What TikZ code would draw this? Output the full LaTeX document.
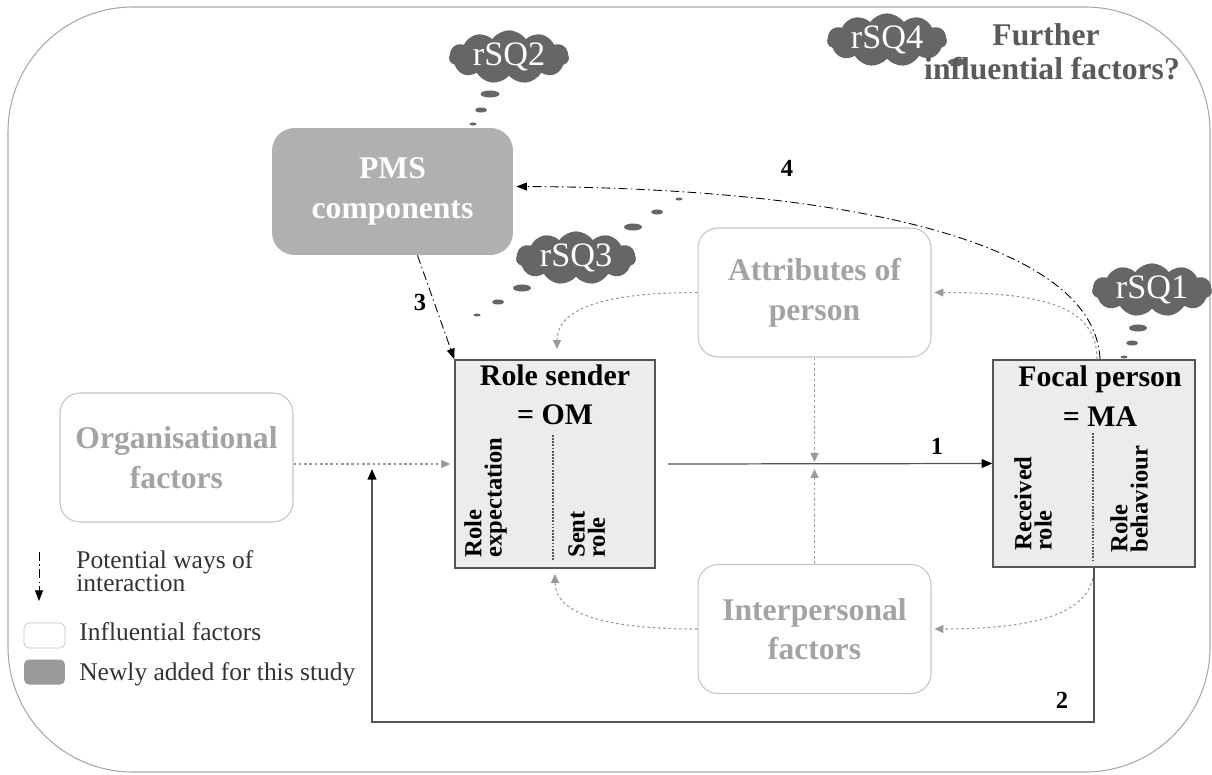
\documentclass[tikz,border=0pt]{standalone}
\usepackage{fontspec}
\setmainfont{Liberation Serif}
\usetikzlibrary{arrows.meta,shapes.symbols,shapes.geometric}
\definecolor{boxtxt}{HTML}{A3A3A3}
\definecolor{boxline}{HTML}{C4C4C4}
\definecolor{pmsfill}{HTML}{B0B0B0}
\definecolor{cloudfill}{HTML}{666666}
\definecolor{rolefill}{HTML}{ECECEC}
\definecolor{roleline}{HTML}{555555}
\definecolor{dotline}{HTML}{9A9A9A}
\definecolor{framecol}{HTML}{A8A8A8}
\definecolor{legtxt}{HTML}{333333}
\definecolor{furthertxt}{HTML}{5A5A5A}
\definecolor{legfill}{HTML}{9A9A9A}
\begin{document}
\begin{tikzpicture}[x=0.02cm,y=-0.02cm,
  factor/.style={draw=boxline, line width=0.6pt, rounded corners=0.4cm, minimum width=4.66cm, minimum height=2.58cm, align=center, text=boxtxt, font=\fontsize{18}{22.5}\selectfont\bfseries, inner sep=0},
  pmsbox/.style={fill=pmsfill, rounded corners=0.45cm, minimum width=4.82cm, minimum height=2.54cm, text=white, align=center, font=\fontsize{18}{22.5}\selectfont\bfseries, inner sep=0},
  rolebox/.style={draw=roleline, fill=rolefill, line width=0.9pt, minimum width=4cm, minimum height=4.16cm, inner sep=0},
  roletitle/.style={align=center, font=\fontsize{17}{22.5}\selectfont\bfseries, inner sep=0},
  rottext/.style={rotate=90, anchor=north west, align=left, font=\fontsize{14}{11.5}\selectfont\bfseries, inner sep=0},
  rsq/.style={cloud, cloud puffs=11, cloud puff arc=110, cloud ignores aspect, fill=cloudfill, text=white, font=\fontsize{19.5}{19.5}\selectfont, minimum width=2.4cm, minimum height=0.96cm, inner sep=0},
  num/.style={font=\fontsize{14}{14}\selectfont\bfseries, inner sep=0},
  legend/.style={text=legtxt, font=\fontsize{14.5}{13}\selectfont, align=left, inner sep=0},
  legendbox/.style={rounded corners=0.1cm, minimum width=0.82cm, minimum height=0.5cm, inner sep=0},
  furthertext/.style={text=furthertxt, anchor=base, font=\fontsize{18}{18}\selectfont\bfseries, inner sep=0},
  dotarrow/.style={draw=dotline, line width=0.6pt, dash pattern=on 1.5pt off 1.5pt, -{Triangle[length=5pt,width=4.5pt,color=dotline]}},
  dasharrow/.style={draw=black, line width=0.5pt, dash pattern=on 5pt off 2pt on 0.8pt off 2pt, -{Triangle[length=6pt,width=4.5pt,color=black]}},
  solidarrow/.style={draw=roleline, line width=0.7pt, -{Triangle[length=6pt,width=5pt,color=black]}},
  divider/.style={draw=roleline, line width=0.7pt, dash pattern=on 1pt off 0.8pt}
]
\useasboundingbox (0,0) rectangle (1212,774);
\draw[framecol, line width=0.6pt, rounded corners=2.5cm] (8,7) rectangle (1210,772);

% boxes
\node[pmsbox] (pms) at (392.5,191.5) {PMS\\components};
\node[factor] (attr) at (814.5,292.5) {Attributes of\\person};
\node[factor] (inter) at (814.5,629) {Interpersonal\\factors};
\node[factor] (org) at (176.5,457.5) {Organisational\\factors};
\node[rolebox] (rs) at (555,464) {};
\node[rolebox, minimum width=4.04cm, minimum height=4.14cm] (fp) at (1094,463.5) {};

\node[roletitle] (rst) at (555,395) {Role sender\\= OM};
\node[roletitle] (fpt) at (1100,396) {Focal person\\= MA};
\draw[divider] (553,435) -- (553,560);
\draw[divider] (1093,433) -- (1093,560);
\node[rottext] (rexp) at (464,558) {Role\\expectation};
\node[rottext] (sent) at (568,558) {Sent\\role};
\node[rottext] (recv) at (1014,551) {Received\\role};
\node[rottext] (rbeh) at (1110,553) {Role\\behaviour};

% coordinates
\coordinate (mid) at (814.5,465);
\coordinate (rsin1) at (557,349);
\coordinate (rsin2) at (555,574);
\coordinate (low) at (372,722);
\coordinate (c2end) at (372,469);

% connectors
\draw[solidarrow] ([xshift=0.24cm]rs.east) -- (fp.west);
\node[num] (n1) at (937,446) {1};
\draw[dotarrow] (attr.south) -- ([yshift=0.06cm]mid);
\draw[dotarrow] (inter.north) -- ([yshift=-0.08cm]mid);
\draw[dotarrow] (attr.west) .. controls (600,292.5) and (557,310) .. (rsin1);
\draw[dotarrow] ([xshift=0.06cm]fp.north) .. controls (1097,305) and (1040,292.5) .. ([xshift=0.06cm]attr.east);
\draw[dotarrow] (inter.west) .. controls (600,629) and (555,612) .. (rsin2);
\draw[dotarrow] (fp.south) .. controls (1094,612) and (1040,629) .. ([xshift=0.06cm]inter.east);
\draw[dotarrow] (org.east |- rs.west) -- ([xshift=-0.08cm]rs.west);
\draw[solidarrow] (fp.south) |- (low) -- (c2end);
\node[num] (n2) at (1062,700) {2};
\draw[dasharrow] ([xshift=0.5cm]pms.south) -- (rs.north west);
\node[num] (n3) at (420,302) {3};
\draw[dasharrow] ([xshift=0.12cm]fp.north) .. controls (1095,245) and (860,188) .. ([xshift=0.06cm,yshift=0.1cm]pms.east);
\node[num] (n4) at (787,168) {4};

% thought bubbles
\fill[cloudfill] (490,94) ellipse [x radius=0.19cm, y radius=0.07cm];
\fill[cloudfill] (481,110) ellipse [x radius=0.12cm, y radius=0.05cm];
\fill[cloudfill] (473,124) ellipse [x radius=0.07cm, y radius=0.03cm];
\fill[cloudfill] (522,288) ellipse [x radius=0.18cm, y radius=0.07cm];
\fill[cloudfill] (498,302) ellipse [x radius=0.12cm, y radius=0.05cm];
\fill[cloudfill] (477,315) ellipse [x radius=0.07cm, y radius=0.03cm];
\fill[cloudfill] (633,227) ellipse [x radius=0.18cm, y radius=0.07cm];
\fill[cloudfill] (657,212) ellipse [x radius=0.12cm, y radius=0.05cm];
\fill[cloudfill] (679,199) ellipse [x radius=0.07cm, y radius=0.03cm];
\fill[cloudfill] (1138,328) ellipse [x radius=0.18cm, y radius=0.07cm];
\fill[cloudfill] (1132,343) ellipse [x radius=0.12cm, y radius=0.05cm];
\fill[cloudfill] (1124,357) ellipse [x radius=0.07cm, y radius=0.03cm];
\fill[cloudfill] (957,62) ellipse [x radius=0.18cm, y radius=0.07cm];

\node[rsq] (q2) at (509,57) {rSQ2};
\node[rsq] (q4) at (887,40) {rSQ4};
\node[rsq] (q3) at (576,258) {rSQ3};
\node[rsq] (q1) at (1152,290) {rSQ1};
\node[furthertext] (fur1) at (1046,45) {Further};
\node[furthertext] (fur2) at (1052,79) {influential factors?};

% legend
\coordinate (lgA) at (39,552);
\coordinate (lgB) at (39,601);
\draw[dasharrow] (lgA) -- (lgB);
\node[legend, anchor=north west] (lg1) at (76,550) {Potential ways of\\interaction};
\node[legendbox, draw=boxline, fill=white] (lgw) at (44.5,635.5) {};
\node[legendbox, fill=legfill] (lgg) at (44.5,672) {};
\node[legend, anchor=base west] (lg2) at (79,640) {Influential factors};
\node[legend, anchor=base west] (lg3) at (79,680) {Newly added for this study};
\end{tikzpicture}
\end{document}
